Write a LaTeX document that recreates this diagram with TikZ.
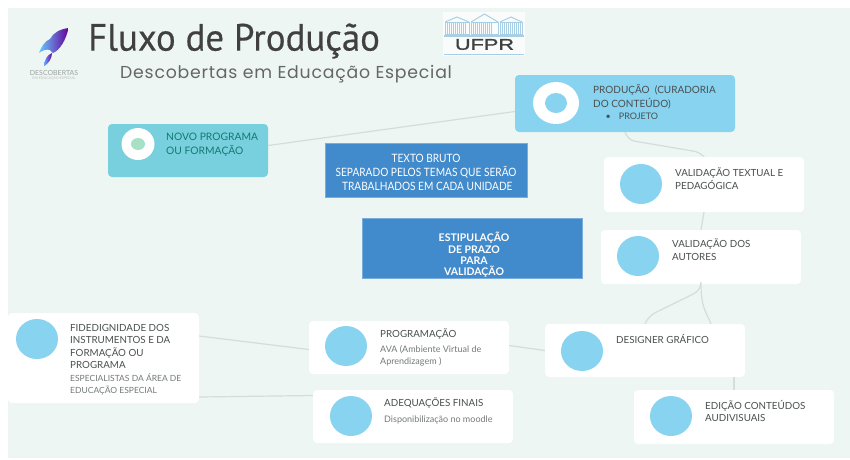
\documentclass[tikz,border=0pt]{standalone}
\usepackage{fontspec}
\usepackage{xcolor}
\usetikzlibrary{calc}
\setmainfont{Lato}
\newfontfamily\titlefont[FakeStretch=0.97,FakeBold=0.4]{PT Sans}
\newfontfamily\subfont[LetterSpace=4.5]{Poppins}
\newfontfamily\narrowfont[FakeStretch=0.88]{Lato}
\newfontfamily\ufprfont[FakeStretch=1.4,FakeBold=1.2]{Liberation Sans}
\definecolor{pagebg}{HTML}{EDF6F3}
\definecolor{skyblue}{HTML}{87D3F0}
\definecolor{tealbox}{HTML}{78CFDD}
\definecolor{bluebox}{HTML}{418ACB}
\definecolor{linegray}{HTML}{D3DDDA}
\definecolor{darktext}{HTML}{4A4F50}
\definecolor{softtext}{HTML}{74797A}
\definecolor{greentext}{HTML}{127A72}
\definecolor{ufprblue}{HTML}{A9CFE6}
\tikzset{
	card/.style={rectangle, rounded corners=4pt, fill=white, minimum width=200pt, minimum height=54pt, inner sep=0pt},
	dot/.style={ellipse, fill=skyblue, minimum width=42pt, minimum height=40pt, inner sep=0pt},
	cardtext/.style={anchor=north west, align=left, inner sep=0pt, text=darktext, font=\fontsize{9.8}{12.4}\selectfont},
	smalltext/.style={anchor=north west, align=left, inner sep=0pt, text=softtext, font=\fontsize{8.5}{12}\selectfont},
	notebox/.style={rectangle, fill=bluebox, draw=bluebox!70!white, line width=0.5pt, inner sep=0pt},
	notetext/.style={inner sep=0pt, text=white, align=center},
	flowline/.style={draw=linegray, line width=1.2pt},
}
\usetikzlibrary{shapes.geometric}
\begin{document}
\begin{tikzpicture}[x=1pt, y=-1pt]
		\useasboundingbox (0,0) rectangle (850,459);
		\fill[pagebg] (8,8) rectangle (850,458);

		\shade[left color=blue!35!cyan!60, right color=violet!80!blue] (68.5,28) .. controls (60,29) and (53,33) .. (50,39) .. controls (45,41) and (41,47) .. (39,53) .. controls (43,50) and (47,49) .. (50,50) .. controls (51,52) and (51,52) .. (53,53) .. controls (60,50) and (66,40) .. (68.5,28) -- cycle;
		\shade[left color=cyan!45!blue!60, right color=violet!80!blue] (52,53) .. controls (47,55) and (44,60) .. (44.5,66) .. controls (49,63) and (52,58) .. (52,53) -- cycle;
		\node[inner sep=0pt, text=softtext!70, font=\fontsize{7}{7}\selectfont](logoname) at (54,72.5) {DESCOBERTAS};
		\node[inner sep=0pt, text=softtext!50, font=\fontsize{3.6}{4}\selectfont](logosub) at (54,78) {EM EDUCAÇÃO ESPECIAL};

		\node[anchor=west, inner sep=0pt, text=black!75, font=\titlefont\fontsize{38}{40}\selectfont](title) at (88,41) {Fluxo de Produção};
		\node[anchor=west, inner sep=0pt, text=black!60, font=\subfont\fontsize{17.3}{18}\selectfont](subtitle) at (120,74) {Descobertas em Educação Especial};

		\fill[white!70!pagebg] (443,12) rectangle (525,56);
		\foreach \bx/\bw in {445/24, 471/27, 500/22}{
			\draw[ufprblue, line width=1pt] (\bx,22) rectangle ++(\bw,12);
			\foreach \i in {2,4,...,20}
				\draw[ufprblue, line width=0.8pt] (\bx+\i,22) -- ++(0,12);
		}
		\draw[ufprblue, line width=1pt] (445,22) -- (457,17) -- (469,22) (471,22) -- (484.5,14) -- (498,22) (500,22) -- (511,17) -- (522,22);
		\draw[ufprblue, line width=1.5pt] (444,36) -- (524,36);
		\node[inner sep=0pt, text=black!75, font=\ufprfont\fontsize{15.5}{17}\selectfont](ufpr) at (484.5,44.5) {UFPR};
		\draw[ufprblue, line width=1pt] (444,54) -- (524,54);

		\node[rectangle, rounded corners=4pt, fill=tealbox, minimum width=160pt, minimum height=53pt, inner sep=0pt](novo) at (188,150.5) {};
		\node[ellipse, fill=white, minimum width=33pt, minimum height=32pt, inner sep=0pt](novoring) at (138,144) {};
		\node[ellipse, fill=green!30!teal!35, minimum width=14pt, minimum height=12pt, inner sep=0pt](novodot) at (138,144) {};
		\node[cardtext, text=greentext, font=\fontsize{10.3}{14}\selectfont](novotxt) at (166,133) {NOVO PROGRAMA\\OU FORMAÇÃO};

		\node[rectangle, rounded corners=4pt, fill=skyblue, minimum width=220pt, minimum height=57pt, inner sep=0pt](prod) at (625,103.5) {};
		\node[ellipse, fill=white, minimum width=46pt, minimum height=42pt, inner sep=0pt](prodring) at (556,103) {};
		\node[ellipse, fill=skyblue, minimum width=22pt, minimum height=20pt, inner sep=0pt](proddot) at (556,103) {};
		\node[cardtext, font=\fontsize{10}{14}\selectfont](prodtxt) at (593,84) {PRODUÇÃO\ \ (CURADORIA\\DO CONTEÚDO)};
		\node[smalltext, text=darktext, font=\fontsize{9}{12}\selectfont](prodsub) at (605.5,113) {\textbullet\hspace{8pt}PROJETO};

		\node[notebox, minimum width=202pt, minimum height=54pt](texto) at (426,170) {};
		\node[notetext, font=\narrowfont\fontsize{11.5}{14}\selectfont](textotxt) at (426,172) {TEXTO BRUTO\\SEPARADO PELOS TEMAS QUE SERÃO\\\ TRABALHADOS EM CADA UNIDADE};
		\node[notebox, minimum width=220pt, minimum height=60pt](prazo) at (472,248) {};
		\node[notetext, font=\fontsize{10.5}{11.3}\bfseries\selectfont](prazotxt) at (474,255) {ESTIPULAÇÃO\\DE PRAZO\\PARA\\VALIDAÇÃO};

		\node[card, minimum height=55pt](valtext) at (704,184.5) {};
		\node[dot](valtextdot) at (641,184) {};
		\node[cardtext](valtexttxt) at (675,168) {VALIDAÇÃO TEXTUAL E\\PEDAGÓGICA};

		\node[card](valaut) at (701,257) {};
		\node[dot](valautdot) at (638,256) {};
		\node[cardtext](valauttxt) at (672,239) {VALIDAÇÃO DOS\\AUTORES};

		\node[card, minimum height=53pt](designer) at (645,350.5) {};
		\node[dot](designerdot) at (582,351) {};
		\node[cardtext](designertxt) at (616,334) {DESIGNER GRÁFICO};

		\node[card](edicao) at (734,417) {};
		\node[dot](edicaodot) at (671,416) {};
		\node[cardtext](edicaotxt) at (705,400) {EDIÇÃO CONTEÚDOS\\AUDIVISUAIS};

		\node[card, minimum height=53pt](prog) at (409,347.5) {};
		\node[dot](progdot) at (346,346) {};
		\node[cardtext](progtxt) at (380,329) {PROGRAMAÇÃO};
		\node[smalltext, font=\fontsize{9}{12}\selectfont](progsub) at (380,345) {AVA (Ambiente Virtual de\\Aprendizagem )};

		\node[card, minimum height=53pt](adeq) at (413,416.5) {};
		\node[dot](adeqdot) at (351,416) {};
		\node[cardtext](adeqtxt) at (384,398) {ADEQUAÇÕES FINAIS};
		\node[smalltext, font=\fontsize{9}{12}\selectfont](adeqsub) at (384,415.5) {Disponibilização no moodle};

		\node[rectangle, rounded corners=4pt, fill=white, minimum width=191pt, minimum height=90pt, inner sep=0pt](fide) at (103.5,358) {};
		\node[dot](fidedot) at (37,339) {};
		\node[cardtext](fidetxt) at (70,324) {FIDEDIGNIDADE DOS\\INSTRUMENTOS E DA\\FORMAÇÃO OU\\PROGRAMA};
		\node[smalltext](fidesub) at (70,373) {ESPECIALISTAS DA ÁREA DE\\EDUCAÇÃO ESPECIAL};

		\draw[flowline]([yshift=5pt]novo.east) -- ([yshift=-8pt]prod.west);
		\draw[flowline, rounded corners=6pt](prod.south) -- ++(4,8) -- ++(71,12) -- (valtext.north);
		\draw[flowline](valtext.south) -- (valaut.north);
		\draw[flowline, rounded corners=8pt](valaut.south) -- ++(0,6) -- ++(-53,26) -- (designer.north);
		\draw[flowline](valaut.south) .. controls ([yshift=-22pt]valaut.south) and ([xshift=60pt,yshift=14pt]designer.north) .. ([xshift=66pt]designer.north);
		\draw[flowline](edicao.north) -- (designer.south -| edicao.north);
		\draw[flowline]([yshift=2pt]prog.east) -- (designer.west);
		\draw[flowline]([yshift=22pt]fide.east) -- ([yshift=-2pt]prog.west);
		\draw[flowline]([yshift=-39pt]fide.east) -- ([yshift=21pt]adeq.west);
	\end{tikzpicture}
\end{document}
